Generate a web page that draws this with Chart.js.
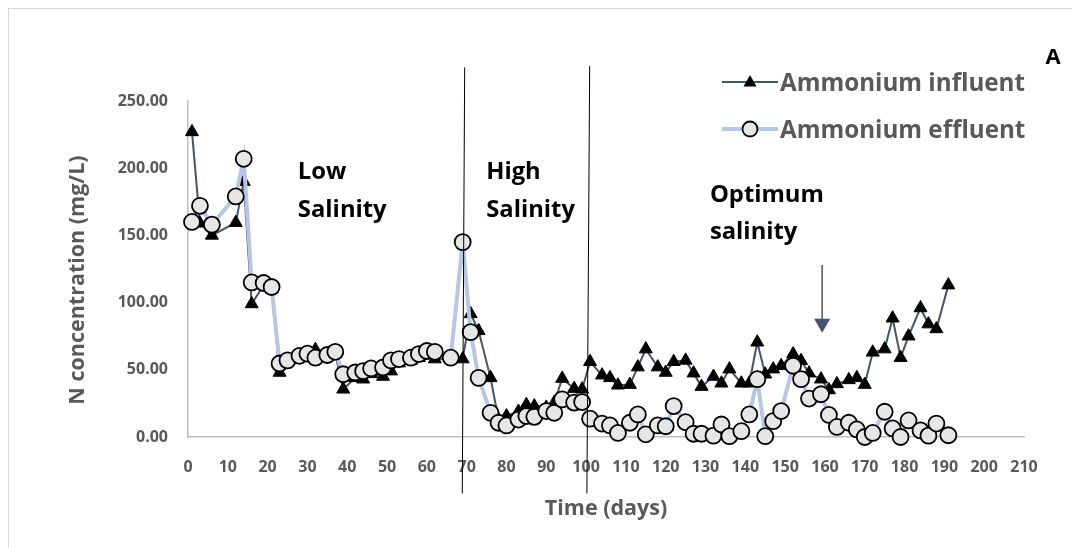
<!DOCTYPE html>
<html>
<head>
<meta charset="utf-8">
<script src="https://cdn.jsdelivr.net/npm/chart.js@4.4.1/dist/chart.umd.min.js"></script>
<style>
  html, body { margin: 0; padding: 0; background: #fff; }
  #wrap { position: relative; width: 1072px; height: 548px; overflow: hidden; }
  #frame { position: absolute; left: 8px; top: 8px; width: 1100px; height: 600px; border: 1px solid #d9d9d9; }
  canvas { position: absolute; left: 0; top: 0; }
</style>
</head>
<body>
<div id="wrap">
  <div id="frame"></div>
  <canvas id="chart" width="1072" height="548"></canvas>
</div>
<script>
const days = [1, 3, 6, 12, 14, 16, 19, 21, 23, 25, 28, 30, 32, 35, 37, 39, 42, 44, 46, 49, 51, 53, 56, 58, 60, 62, 66, 69,
  71, 73, 76, 78, 80, 83, 85, 87, 90, 92, 94, 97, 99, 101, 104, 106, 108, 111, 113, 115, 118, 120, 122, 125, 127, 129,
  132, 134, 136, 139, 141, 143, 145, 147, 149, 152, 154, 156, 159, 161, 163, 166, 168, 170, 172, 175, 177, 179, 181,
  184, 186, 188, 191];

const influent = [227, 159, 150, 159.5, 190, 99, 113, 110, 48, 56, 59, 61, 65, 60, 62, 35.5, 44, 43, 47, 45, 49, 55, 57, 59, 61, 58, 58, 58,
  91.6, 79, 44, 13, 15.6, 19, 24, 23, 22, 25.6, 43.5, 36, 35.5, 56, 46, 44, 38.5, 39, 52, 65.4, 52, 48, 56, 57, 47.5, 37.5,
  45, 40, 50.5, 40, 40, 70.5, 46.7, 50.5, 53, 61.7, 56.7, 47.5, 43, 35, 39.5, 42.5, 44, 39, 63, 65.4, 88.4, 59, 75,
  96, 84, 80.4, 113];

const effluent = [160, 172, 158, 179, 207, 115, 114.6, 111.6, 54.7, 57, 60.4, 62, 59, 61, 63.4, 46.7, 48, 49, 51, 51.7, 57, 58, 59, 61.7, 64, 63.4, 59, 145,
  78, 44, 18, 10.6, 8.6, 13, 15.6, 15, 19.3, 18, 28, 25.6, 26, 13.6, 10, 8.6, 3, 10.6, 16.8, 2, 8.6, 8, 23, 11, 2.4, 2.4,
  1, 9.3, 0.6, 4.3, 16.8, 43, 0.6, 11.8, 19.3, 53, 43, 28.6, 31.8, 16.4, 7.5, 10.6, 5.6, 0, 3, 18.8, 6.4, 0, 12.3,
  4.9, 1, 10, 1.3];

const xTickValues = [0, 10, 20, 30, 40, 50, 60, 70, 80, 90, 100, 110, 120, 130, 140, 150, 160, 170, 180, 190, 200, 210];
const yTickValues = [0, 50, 100, 150, 200, 250];

// phase separators (day at top / bottom, value at top / bottom)
const phaseLines = [
  { x0: 69.5, y0: 275, x1: 68.9, y1: -42 },
  { x0: 100.9, y0: 276, x1: 100.2, y1: -42 }
];
const phaseLabels = [
  { text: ['Low', 'Salinity'], x: 27.6, y: [197, 169] },
  { text: ['High', 'Salinity'], x: 74.9, y: [197, 169] },
  { text: ['Optimum', 'salinity'], x: 131.1, y: [180, 152.5] }
];
const arrowMark = { x: 159.3, from: 128, to: 77.5 };

const grey = '#595959';
const fontFam = '"Open Sans", sans-serif';

const overlay = {
  id: 'overlay',
  afterDraw(chart) {
    const { ctx, scales: { x, y } } = chart;
    ctx.save();

    // phase separators
    ctx.strokeStyle = '#000';
    ctx.lineWidth = 1;
    phaseLines.forEach(l => {
      ctx.beginPath();
      ctx.moveTo(x.getPixelForValue(l.x0), y.getPixelForValue(l.y0));
      ctx.lineTo(x.getPixelForValue(l.x1), y.getPixelForValue(l.y1));
      ctx.stroke();
    });

    // phase labels
    ctx.fillStyle = '#000';
    ctx.font = 'bold 23.8px ' + fontFam;
    ctx.textAlign = 'left';
    ctx.textBaseline = 'middle';
    phaseLabels.forEach(p => {
      p.text.forEach((t, i) => ctx.fillText(t, x.getPixelForValue(p.x), y.getPixelForValue(p.y[i])));
    });

    // arrow
    const ax = x.getPixelForValue(arrowMark.x);
    const ay0 = y.getPixelForValue(arrowMark.from);
    const ay1 = y.getPixelForValue(arrowMark.to);
    ctx.strokeStyle = '#44546a';
    ctx.fillStyle = '#44546a';
    ctx.lineWidth = 1.5;
    ctx.beginPath();
    ctx.moveTo(ax, ay0);
    ctx.lineTo(ax, ay1 - 12);
    ctx.stroke();
    ctx.beginPath();
    ctx.moveTo(ax - 8, ay1 - 14);
    ctx.lineTo(ax + 8, ay1 - 14);
    ctx.lineTo(ax, ay1);
    ctx.closePath();
    ctx.fill();

    // axis titles
    ctx.fillStyle = grey;
    ctx.font = 'bold 21.5px ' + fontFam;
    ctx.textAlign = 'center';
    ctx.fillText('Time (days)', 606, 509);
    ctx.save();
    ctx.translate(78, 280);
    ctx.rotate(-Math.PI / 2);
    ctx.fillText('N concentration (mg/L)', 0, 0);
    ctx.restore();

    // panel letter
    ctx.fillStyle = '#000';
    ctx.font = 'bold 22px ' + fontFam;
    ctx.fillText('A', 1053, 58);

    // legend
    const rows = [
      { label: 'Ammonium influent', y: 82, color: '#44546a', w: 2, mark: 'tri' },
      { label: 'Ammonium effluent', y: 129, color: '#b4c7e7', w: 4, mark: 'circ' }
    ];
    rows.forEach(r => {
      ctx.strokeStyle = r.color;
      ctx.lineWidth = r.w;
      ctx.beginPath();
      ctx.moveTo(722, r.y);
      ctx.lineTo(778, r.y);
      ctx.stroke();
      if (r.mark === 'tri') {
        ctx.fillStyle = '#000';
        ctx.beginPath();
        ctx.moveTo(750, r.y - 7);
        ctx.lineTo(756.5, r.y + 4.5);
        ctx.lineTo(743.5, r.y + 4.5);
        ctx.closePath();
        ctx.fill();
      } else {
        ctx.fillStyle = '#e7e6e6';
        ctx.strokeStyle = '#000';
        ctx.lineWidth = 1.8;
        ctx.beginPath();
        ctx.arc(750, r.y, 7.5, 0, Math.PI * 2);
        ctx.fill();
        ctx.stroke();
      }
      ctx.fillStyle = grey;
      ctx.font = 'bold 24.2px ' + fontFam;
      ctx.textAlign = 'left';
      ctx.fillText(r.label, 780, r.y + 2);
    });

    ctx.restore();
  }
};

new Chart(document.getElementById('chart'), {
  type: 'line',
  data: {
    datasets: [
      {
        label: 'Ammonium influent',
        data: days.map((d, i) => ({ x: d, y: influent[i] })),
        borderColor: '#44546a',
        borderWidth: 2,
        pointStyle: 'triangle',
        pointRadius: 7.5,
        pointBackgroundColor: '#000',
        pointBorderColor: '#000',
        pointBorderWidth: 1,
        tension: 0,
        clip: false,
        order: 2
      },
      {
        label: 'Ammonium effluent',
        data: days.map((d, i) => ({ x: d, y: effluent[i] })),
        borderColor: '#b4c7e7',
        borderWidth: 4,
        pointStyle: 'circle',
        pointRadius: 8,
        pointBackgroundColor: '#e7e6e6',
        pointBorderColor: '#000',
        pointBorderWidth: 1.8,
        tension: 0,
        clip: false,
        order: 1
      }
    ]
  },
  options: {
    responsive: false,
    animation: false,
    events: [],
    layout: { padding: { left: 0, right: 48, top: 101, bottom: 0 } },
    plugins: {
      legend: { display: false },
      tooltip: { enabled: false }
    },
    scales: {
      x: {
        type: 'linear',
        min: 0,
        max: 210,
        afterBuildTicks: (s) => { s.ticks = xTickValues.map(v => ({ value: v })); },
        afterFit: (s) => { s.height = 111; },
        grid: { display: true, color: 'rgba(0,0,0,0)', drawTicks: false },
        border: { display: true, color: '#bfbfbf', width: 1.5 },
        ticks: {
          color: grey,
          padding: 21,
          maxRotation: 0,
          autoSkip: false,
          font: { family: fontFam, size: 16, weight: 'bold' }
        }
      },
      y: {
        min: 0,
        max: 250,
        afterBuildTicks: (s) => { s.ticks = yTickValues.map(v => ({ value: v })); },
        afterFit: (s) => { s.width = 188; },
        grid: { display: true, color: 'rgba(0,0,0,0)', drawTicks: false },
        border: { display: true, color: '#bfbfbf', width: 1.5 },
        ticks: {
          color: grey,
          padding: 20,
          callback: (v) => Number(v).toFixed(2),
          font: { family: fontFam, size: 16, weight: 'bold' }
        }
      }
    }
  },
  plugins: [overlay]
});
</script>
</body>
</html>
